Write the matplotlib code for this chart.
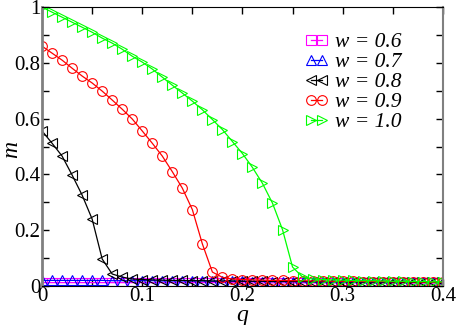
import numpy as np
import matplotlib
matplotlib.use("Agg")
import matplotlib.pyplot as plt
from matplotlib.ticker import MultipleLocator, FormatStrFormatter

plt.rcParams["font.family"] = "serif"
plt.rcParams["font.serif"] = ["Liberation Serif", "DejaVu Serif"]

q = np.linspace(0.0, 0.4, 41)

m06 = [0.012, 0.012, 0.012, 0.012, 0.012, 0.012, 0.012, 0.012, 0.012, 0.012,
       0.012, 0.012, 0.012, 0.012, 0.012, 0.012, 0.012, 0.012, 0.012, 0.012,
       0.011, 0.011, 0.011, 0.011, 0.011, 0.011, 0.011, 0.011, 0.011, 0.011,
       0.011, 0.011, 0.011, 0.010, 0.010, 0.010, 0.010, 0.010, 0.010, 0.010,
       0.010]
m07 = [0.020, 0.020, 0.020, 0.020, 0.020, 0.020, 0.020, 0.019, 0.019, 0.019,
       0.019, 0.019, 0.018, 0.018, 0.018, 0.018, 0.018, 0.017, 0.017, 0.017,
       0.017, 0.016, 0.016, 0.016, 0.016, 0.016, 0.015, 0.015, 0.015, 0.015,
       0.015, 0.014, 0.014, 0.014, 0.014, 0.014, 0.013, 0.013, 0.013, 0.013,
       0.013]
m08 = [0.556, 0.512, 0.466, 0.398, 0.326, 0.240, 0.097, 0.043, 0.032, 0.025,
       0.023, 0.022, 0.021, 0.020, 0.020, 0.019, 0.019, 0.018, 0.018, 0.018,
       0.017, 0.017, 0.017, 0.016, 0.016, 0.016, 0.016, 0.015, 0.015, 0.015,
       0.015, 0.014, 0.014, 0.014, 0.014, 0.014, 0.013, 0.013, 0.013, 0.013,
       0.013]
m09 = [0.860, 0.835, 0.810, 0.781, 0.753, 0.728, 0.699, 0.667, 0.634, 0.599,
       0.556, 0.512, 0.466, 0.410, 0.351, 0.274, 0.151, 0.050, 0.031, 0.025,
       0.023, 0.022, 0.021, 0.020, 0.020, 0.019, 0.019, 0.018, 0.018, 0.017,
       0.017, 0.017, 0.016, 0.016, 0.016, 0.015, 0.015, 0.015, 0.014, 0.014,
       0.014]
m10 = [1.000, 0.982, 0.964, 0.946, 0.928, 0.910, 0.889, 0.871, 0.849, 0.824,
       0.803, 0.778, 0.749, 0.720, 0.692, 0.663, 0.632, 0.597, 0.561, 0.518,
       0.475, 0.425, 0.368, 0.297, 0.202, 0.068, 0.032, 0.025, 0.023, 0.022,
       0.021, 0.020, 0.019, 0.019, 0.018, 0.017, 0.017, 0.016, 0.016, 0.015,
       0.015]

labels = ["w = 0.6", "w = 0.7", "w = 0.8", "w = 0.9", "w = 1.0"]
series = [m06, m07, m08, m09, m10]
colors = ["#ff00ff", "#0000ff", "#000000", "#ff0000", "#00ff00"]
markers = ["s", "^", "<", "o", ">"]

fig = plt.figure(figsize=(4.57, 3.25), dpi=100)
ax = fig.add_axes([0.092, 0.12, 0.877, 0.858])

for m, lab, c, mk in zip(series, labels, colors, markers):
    ax.plot(q, m, color=c, marker=mk, markersize=7, markerfacecolor="none",
            markeredgecolor=c, markeredgewidth=0.8, linewidth=0.9, label=lab)

ax.set_xlim(0, 0.4)
ax.set_ylim(0, 1)
ax.xaxis.set_major_locator(MultipleLocator(0.1))
ax.xaxis.set_minor_locator(MultipleLocator(0.05))
ax.yaxis.set_major_locator(MultipleLocator(0.2))
ax.yaxis.set_minor_locator(MultipleLocator(0.1))
ax.xaxis.set_major_formatter(FormatStrFormatter("%g"))
ax.yaxis.set_major_formatter(FormatStrFormatter("%g"))
ax.tick_params(which="both", direction="in", top=True, right=True,
               length=5, width=1, labelsize=15, pad=1)

for side in ["left", "right"]:
    ax.spines[side].set_color("#808080")
ax.spines["left"].set_linewidth(2)
ax.spines["right"].set_linewidth(1.5)

ax.set_xlabel("q", style="italic", fontsize=17)
ax.set_ylabel("m", style="italic", fontsize=17)
ax.xaxis.set_label_coords(0.5, -0.068)
ax.yaxis.set_label_coords(-0.075, 0.49)
ax.xaxis.label.set_va("top")
ax.yaxis.label.set_va("center")

ax.legend(loc="upper right", bbox_to_anchor=(0.945, 0.98), frameon=False,
          numpoints=2, handlelength=1.1, handletextpad=0.3, labelspacing=0.0,
          prop={"style": "italic", "size": 15.5})

fig.savefig("out.png", dpi=100)
